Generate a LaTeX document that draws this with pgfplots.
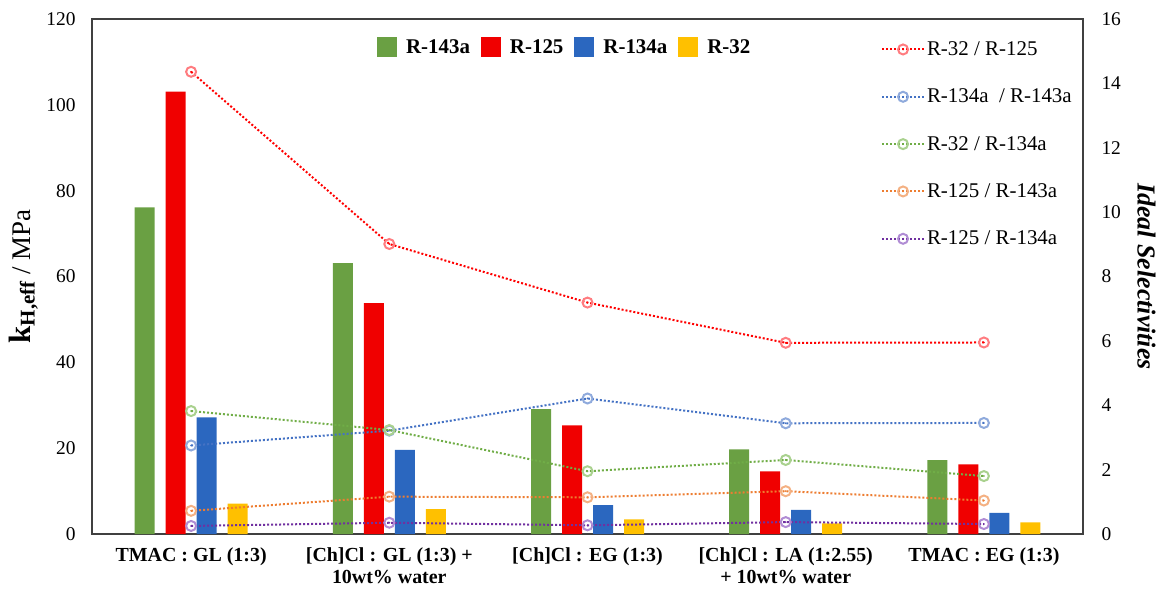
\documentclass[border=0pt]{standalone}
\usepackage{pgfplots}
\pgfplotsset{compat=1.18}
\usepackage{fontspec}
\setmainfont{Liberation Serif}
\definecolor{bG}{HTML}{6AA043}
\definecolor{bR}{HTML}{F00000}
\definecolor{bB}{HTML}{2B67BF}
\definecolor{bY}{HTML}{FFC000}
\definecolor{lR}{HTML}{FF0000}
\definecolor{mR}{HTML}{FF7C80}
\definecolor{lB}{HTML}{4472C4}
\definecolor{mB}{HTML}{8FAADC}
\definecolor{lG}{HTML}{70AD47}
\definecolor{mG}{HTML}{A9D18E}
\definecolor{lO}{HTML}{ED7D31}
\definecolor{mO}{HTML}{F4B183}
\definecolor{lP}{HTML}{7030A0}
\definecolor{mP}{HTML}{B08CD4}
\pgfdeclareplotmark{cdot}{%
  \pgfpathcircle{\pgfpoint{0pt}{0pt}}{\pgfplotmarksize}\pgfusepathqstroke
  \pgfpathcircle{\pgfpoint{0pt}{0pt}}{1pt}\pgfusepathqfill}
\begin{document}
\begin{tikzpicture}
\pgfplotsset{
  common/.style={
    at={(0,0)}, anchor=south west,
    scale only axis, width=991bp, height=515bp,
    xmin=-0.5, xmax=4.5,
    major tick length=0pt,
    /pgf/number format/assume math mode=true,
    tick label style={font=\fontsize{19.5}{22}\selectfont},
  },
  sel/.style={line width=2bp, dash pattern=on 2bp off 2bp, line cap=butt,
    mark=cdot, mark size=5bp},
}
\begin{axis}[common,
  ymin=0, ymax=120, ytick={0,20,...,120},
  xtick={0,1,2,3,4},
  xticklabels={TMAC : GL (1:3), {[Ch]Cl : GL (1:3) +\\10wt\% water}, [Ch]Cl : EG (1:3), {[Ch]Cl : LA (1:2.55)\\+ 10wt\% water}, TMAC : EG (1:3)},
  xticklabel style={font=\fontsize{20}{22.5}\selectfont\bfseries, align=center, yshift=-10bp},
  yticklabel pos=left,
  yticklabel style={xshift=-13bp},
  axis line style={draw=black!75, line width=1.2bp},
  ybar=11bp, bar width=20bp,
  every axis y label/.style={at={(axis description cs:-0.069,0.5)}, rotate=90, anchor=center},
  ylabel={\fontsize{27}{30}\selectfont{\fontsize{31}{34}\selectfont\textbf{k}}\raisebox{-4bp}{\fontsize{21}{24}\selectfont\textbf{H,eff}} / MPa},
  legend style={at={(axis description cs:0.477,0.945)}, anchor=center, draw=none, fill=none,
    font=\fontsize{21}{25}\selectfont\bfseries, legend columns=4,
    /tikz/every odd column/.append style={column sep=7bp},
    /tikz/every even column/.append style={column sep=9bp}},
  every axis plot post/.append style={legend image code/.code={\fill[#1] (0bp,-10bp) rectangle (20bp,10bp);}},
]
\addplot[fill=bG, draw=none] coordinates {(0,76.1) (1,63.1) (2,29.1) (3,19.7) (4,17.2)};
\addlegendentry{R-143a}
\addplot[fill=bR, draw=none] coordinates {(0,103.1) (1,53.8) (2,25.3) (3,14.6) (4,16.2)};
\addlegendentry{R-125}
\addplot[fill=bB, draw=none] coordinates {(0,27.2) (1,19.6) (2,6.7) (3,5.6) (4,4.9)};
\addlegendentry{R-134a}
\addplot[fill=bY, draw=none] coordinates {(0,7.1) (1,5.8) (2,3.4) (3,2.5) (4,2.7)};
\addlegendentry{R-32}
\end{axis}
\begin{axis}[common,
  ymin=0, ymax=16, ytick={0,2,...,16},
  axis x line=none, axis y line*=right,
  y axis line style={draw=black!75, line width=1.2bp, -},
  yticklabel style={xshift=15bp},
  every axis y label/.style={at={(axis description cs:1.064,0.5)}, rotate=-90, anchor=center},
  ylabel={\fontsize{26}{30}\selectfont\textbf{\textit{Ideal Selectivities}}},
  legend style={at={(axis description cs:0.796,0.960)}, anchor=north west, draw=none, fill=none,
    font=\fontsize{21}{25}\selectfont, row sep=28bp, inner sep=0pt, cells={anchor=west}},
  legend image code/.code={\draw[mark repeat=2, mark phase=2, #1] plot coordinates {(0bp,0bp) (21bp,0bp) (42bp,0bp)};},
]
\addplot[sel, color=lR, mark options={solid, draw=mR, fill=lR}] coordinates {(0,14.36) (1,9.01) (2,7.19) (3,5.94) (4,5.95)};
\addlegendentry{R-32 / R-125}
\addplot[sel, color=lB, mark options={solid, draw=mB, fill=lB}] coordinates {(0,2.75) (1,3.21) (2,4.21) (3,3.44) (4,3.45)};
\addlegendentry{R-134a \ / R-143a}
\addplot[sel, color=lG, mark options={solid, draw=mG, fill=lG}] coordinates {(0,3.82) (1,3.23) (2,1.95) (3,2.30) (4,1.80)};
\addlegendentry{R-32 / R-134a}
\addplot[sel, color=lO, mark options={solid, draw=mO, fill=lO}] coordinates {(0,0.72) (1,1.16) (2,1.14) (3,1.33) (4,1.04)};
\addlegendentry{R-125 / R-143a}
\addplot[sel, color=lP, mark options={solid, draw=mP, fill=lP}] coordinates {(0,0.25) (1,0.35) (2,0.27) (3,0.37) (4,0.31)};
\addlegendentry{R-125 / R-134a}
\end{axis}
\pgfresetboundingbox
\path (-92bp,-55bp) rectangle (1071bp,534bp);
\end{tikzpicture}
\end{document}
